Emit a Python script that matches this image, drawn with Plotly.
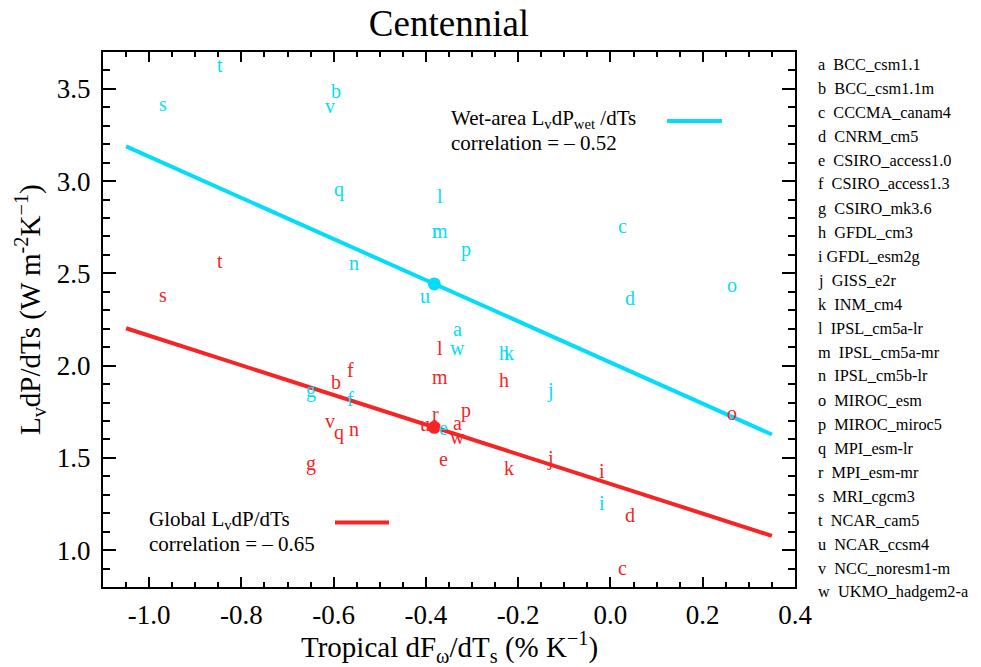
import numpy as np
import plotly.graph_objects as go

# ---------------- data ----------------
letters = list("abcdefghijklmnopqrstuvw")
model_names = ["BCC_csm1.1", "BCC_csm1.1m", "CCCMA_canam4", "CNRM_cm5",
               "CSIRO_access1.0", "CSIRO_access1.3", "CSIRO_mk3.6", "GFDL_cm3",
               "GFDL_esm2g", "GISS_e2r", "INM_cm4", "IPSL_cm5a-lr", "IPSL_cm5a-mr",
               "IPSL_cm5b-lr", "MIROC_esm", "MIROC_miroc5", "MPI_esm-lr", "MPI_esm-mr",
               "MRI_cgcm3", "NCAR_cam5", "NCAR_ccsm4", "NCC_noresm1-m", "UKMO_hadgem2-a"]
list_labels = [("i " if L == "i" else L + "  ") + n for L, n in zip(letters, model_names)]

# Tropical dF_omega/dT_s (% K^-1)
dFw_dTs = [-0.343, -0.607, 0.014, 0.030, -0.374, -0.573, -0.663, -0.243, -0.028,
           -0.140, -0.233, -0.379, -0.389, -0.568, 0.251, -0.327, -0.601, -0.390,
           -0.981, -0.855, -0.414, -0.621, -0.349]
# Wet-area Lv dP_wet/dTs (W m-2 K-1)
wet_LdP = [2.148, 3.439, 2.709, 2.319, 1.611, 1.771, 1.817, 2.022, 1.207, 1.814,
           2.022, 2.870, 2.681, 2.510, 2.389, 2.580, 2.907, 2.681, 3.372, 3.582,
           2.329, 3.359, 2.049]
# Global Lv dP/dTs (W m-2 K-1)
global_LdP = [1.642, 1.861, 0.852, 1.139, 1.443, 1.930, 1.421, 1.872, 1.379, 1.449,
              1.397, 2.048, 1.891, 1.609, 1.696, 1.706, 1.588, 1.687, 2.332, 2.517,
              1.636, 1.651, 1.564]

wet_corr_text = "correlation = \u2013 0.52"
glob_corr_text = "correlation = \u2013 0.65"
fit_x_range = [-1.05, 0.35]

x_tickvals = [-1.0, -0.8, -0.6, -0.4, -0.2, 0.0, 0.2, 0.4]
x_ticktext = ["-1.0", "-0.8", "-0.6", "-0.4", "-0.2", "0.0", "0.2", "0.4"]
y_tickvals = [1.0, 1.5, 2.0, 2.5, 3.0, 3.5]
y_ticktext = ["1.0", "1.5", "2.0", "2.5", "3.0", "3.5"]

# ---------------- style ----------------
CYAN = "#05DDF8"
RED = "#F52525"
FONT = "Liberation Serif, Times New Roman, serif"

# page body has an 8px margin: the figure is sized/placed to compensate
PAGE_OFF = 8
FIG_W, FIG_H = 981 - PAGE_OFF, 667 - PAGE_OFF
ML, MT, MR, MB = 103 - PAGE_OFF, 52 - PAGE_OFF, 186, 80
PW, PH = FIG_W - ML - MR, FIG_H - MT - MB   # plot area 692 x 535


def px_x(px):  # screen px -> paper x
    return (px - 103) / PW


def px_y(py):  # screen px -> paper y
    return (587 - py) / PH


x = np.array(dFw_dTs)
fx = np.array(fit_x_range)

fig = go.Figure()
annotations = []
for series, color in ((wet_LdP, CYAN), (global_LdP, RED)):
    y = np.array(series)
    coef = np.polyfit(x, y, 1)
    fig.add_trace(go.Scatter(x=fx, y=np.polyval(coef, fx), mode="lines",
                             line=dict(color=color, width=4), hoverinfo="skip"))
    fig.add_trace(go.Scatter(x=[x.mean()], y=[y.mean()], mode="markers",
                             marker=dict(color=color, size=13), hoverinfo="skip"))
    for xi, yi, L in zip(x, y, letters):
        annotations.append(dict(x=xi, y=yi, xref="x", yref="y", text=L, showarrow=False,
                                xanchor="left", yanchor="middle", xshift=-1, yshift=9,
                                font=dict(family=FONT, size=20, color=color)))

# model list on the right
for i, lab in enumerate(list_labels):
    annotations.append(dict(x=px_x(816), y=px_y(64 + 24 * i), xref="paper", yref="paper",
                            text=lab, showarrow=False, xanchor="left", yanchor="middle",
                            font=dict(family=FONT, size=16.3, color="black")))

# in-plot legends
leg_font = dict(family=FONT, size=21, color="black")
annotations += [
    dict(x=px_x(449), y=px_y(119), xref="paper", yref="paper",
         text="Wet-area L<sub>v</sub>dP<sub>wet</sub> /dTs", showarrow=False,
         xanchor="left", yanchor="middle", font=leg_font),
    dict(x=px_x(449), y=px_y(143), xref="paper", yref="paper",
         text=wet_corr_text, showarrow=False, xanchor="left", yanchor="middle", font=leg_font),
    dict(x=px_x(147), y=px_y(520), xref="paper", yref="paper",
         text="Global L<sub>v</sub>dP/dTs", showarrow=False,
         xanchor="left", yanchor="middle", font=leg_font),
    dict(x=px_x(147), y=px_y(544), xref="paper", yref="paper",
         text=glob_corr_text, showarrow=False, xanchor="left", yanchor="middle", font=leg_font),
    # axis titles
    dict(x=px_x(30), y=px_y(310), xref="paper", yref="paper",
         text="L<sub>v</sub>dP/dTs (W m<sup>-2</sup>K<sup>\u22121</sup>)", showarrow=False,
         textangle=-90, xanchor="center", yanchor="middle",
         font=dict(family=FONT, size=29, color="black")),
    dict(x=0.5, y=px_y(647), xref="paper", yref="paper",
         text="Tropical dF<sub>\u03c9</sub>/dT<sub>s</sub> (% K<sup>\u22121</sup>)", showarrow=False,
         xanchor="center", yanchor="middle",
         font=dict(family=FONT, size=29, color="black")),
]

shapes = [
    dict(type="line", xref="paper", yref="paper", x0=px_x(667), x1=px_x(722),
         y0=px_y(121), y1=px_y(121), line=dict(color=CYAN, width=4)),
    dict(type="line", xref="paper", yref="paper", x0=px_x(335), x1=px_x(389),
         y0=px_y(522.5), y1=px_y(522.5), line=dict(color=RED, width=4)),
]

axis_common = dict(showline=True, linewidth=2, linecolor="black", mirror="allticks",
                   ticks="inside", tickcolor="black", tickwidth=1.5, showgrid=False,
                   zeroline=False, tickmode="array",
                   tickfont=dict(family=FONT, size=27, color="black"))

fig.update_layout(
    width=FIG_W, height=FIG_H,
    margin=dict(l=ML, r=MR, t=MT, b=MB),
    paper_bgcolor="white", plot_bgcolor="white",
    showlegend=False,
    title=dict(text="Centennial", x=(449 - PAGE_OFF) / FIG_W, xanchor="center",
               y=1 - (23 - PAGE_OFF) / FIG_H,
               yanchor="middle", xref="container", yref="container",
               font=dict(family=FONT, size=37, color="black")),
    xaxis=dict(range=[-1.1, 0.4], tickvals=x_tickvals, ticktext=x_ticktext, ticklen=10,
               ticklabelstandoff=3,
               minor=dict(dtick=0.05, tick0=0, ticks="inside", ticklen=5,
                          tickcolor="black", tickwidth=1.5),
               **axis_common),
    yaxis=dict(range=[0.8, 3.7], tickvals=y_tickvals, ticktext=y_ticktext, ticklen=13,
               ticklabelstandoff=5,
               minor=dict(dtick=0.1, tick0=0, ticks="inside", ticklen=7,
                          tickcolor="black", tickwidth=1.5),
               **axis_common),
    annotations=annotations,
    shapes=shapes,
)

fig.write_html("out.html")
